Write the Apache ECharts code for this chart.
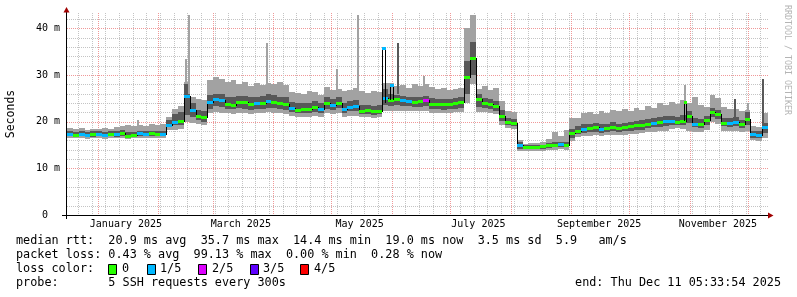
<!DOCTYPE html>
<html><head><meta charset="utf-8">
<script src="https://cdn.jsdelivr.net/npm/echarts@6.0.0/dist/echarts.min.js"></script>
<style>html,body{margin:0;padding:0;background:#fff}#c{width:797px;height:297px}</style>
</head><body><div id="c"></div>
<script>
// ---------- data ----------
const START = Date.UTC(2024, 11, 16, 5, 33, 54);
const DAY = 86400000;
const END = START + 360 * DAY;
const BUCKET_DAYS = 3;

const smokeHigh = [18.6,18.4,18.6,18.3,18.5,18.5,18.7,18.4,18.8,19.0,19.2,19.0,19.3,19.1,19.4,19.2,19.6,21.0,22.8,23.4,
28.5,25.3,24.8,24.6,29.0,29.5,29.2,28.6,29.0,28.0,28.6,27.6,28.3,27.8,28.4,28.0,28.5,27.8,26.4,26.2,
26.0,26.5,26.3,25.8,27.4,26.8,27.0,26.6,26.8,27.2,26.6,26.2,26.5,26.3,28.2,28.4,27.6,27.8,27.3,28.0,
27.6,28.0,27.4,27.0,27.2,26.8,27.0,27.2,40.0,42.8,27.0,27.6,26.9,27.3,24.5,22.2,22.0,16.0,15.3,15.4,
15.5,15.6,16.2,17.8,17.0,18.2,20.8,20.8,21.8,22.0,21.6,22.2,21.8,22.5,22.3,22.8,22.4,23.0,22.6,23.4,
23.0,24.0,23.6,24.2,23.8,24.6,24.0,25.2,23.5,23.2,25.8,25.0,23.2,22.8,22.8,22.2,22.6,19.0,18.8,21.8];
const darkHigh = [18.0,17.8,18.0,17.7,17.9,18.0,17.8,17.9,17.9,18.2,17.7,17.8,18.1,18.0,18.1,18.0,18.1,20.3,21.6,22.0,
28.0,24.0,22.5,22.3,25.8,26.0,25.9,25.3,25.2,25.6,25.5,25.2,25.4,25.6,25.9,25.7,25.4,25.2,24.2,24.0,
24.0,24.1,24.4,24.0,25.2,24.8,25.3,24.0,24.4,24.6,23.6,23.6,23.4,23.5,27.0,26.0,25.8,25.6,25.4,25.3,
25.4,25.5,25.0,24.9,24.8,24.9,25.0,25.2,33.0,37.0,26.0,25.0,24.8,24.4,22.5,20.8,20.6,15.6,15.0,15.0,
15.1,15.1,15.4,15.6,15.7,15.6,18.5,19.0,19.5,19.6,19.7,19.5,19.6,19.9,19.6,19.8,20.0,20.2,20.3,20.6,
20.8,21.0,21.2,21.2,21.0,21.4,22.4,20.8,20.6,21.2,23.0,22.6,20.8,20.7,21.0,20.4,22.0,18.0,17.9,19.8];
const median = [17.4,17.2,17.4,17.1,17.3,17.4,17.2,17.3,17.3,17.6,17.0,17.2,17.5,17.4,17.5,17.4,17.4,19.3,19.9,20.1,
25.6,22.6,21.3,21.0,24.2,24.8,24.7,23.8,23.6,24.3,24.2,23.8,24.0,24.1,24.5,24.3,24.0,23.8,22.9,22.6,
22.7,22.8,23.2,22.7,24.0,23.5,24.1,22.8,23.2,23.4,22.4,22.5,22.2,22.3,25.0,24.6,24.8,24.6,24.5,24.3,
24.4,24.6,23.9,23.8,23.7,23.9,24.0,24.2,29.5,33.6,24.8,24.0,23.7,23.3,21.2,19.9,19.8,15.0,14.5,14.6,
14.6,14.7,14.9,15.0,15.2,15.0,17.6,18.1,18.5,18.6,18.8,18.5,18.7,18.9,18.6,18.8,19.0,19.2,19.3,19.6,
19.8,19.9,20.1,20.2,20.0,20.2,21.2,19.6,19.5,20.3,22.0,21.6,19.8,19.7,20.0,19.4,20.5,17.3,17.1,18.8];
const darkLow = [16.9,16.8,16.9,16.7,16.8,16.9,16.8,16.9,16.8,17.0,16.6,16.8,17.0,16.9,17.0,16.9,16.9,18.8,19.2,19.3,
21.5,21.0,20.3,20.0,22.8,23.4,23.2,22.8,22.7,22.9,22.8,22.6,22.7,22.8,23.0,22.9,22.7,22.6,22.0,21.8,
21.8,21.9,22.0,21.8,22.8,22.5,22.9,21.9,22.2,22.3,21.6,21.7,21.5,21.6,23.5,23.4,23.5,23.4,23.3,23.2,
23.2,23.3,22.8,22.7,22.6,22.7,22.8,22.9,26.0,30.0,23.2,22.9,22.7,22.3,20.2,19.2,19.1,14.2,14.1,14.1,
14.2,14.2,14.4,14.5,14.6,14.5,16.5,17.3,17.6,17.7,17.8,17.6,17.7,17.9,17.7,17.9,18.0,18.2,18.3,18.6,
18.8,18.9,19.1,19.3,19.3,19.3,19.8,18.8,18.7,19.3,21.0,20.6,19.0,18.9,19.1,18.6,19.2,16.6,16.4,17.6];
const smokeLow = [16.4,16.4,16.5,16.3,16.4,16.5,16.3,16.4,16.4,16.5,16.2,16.4,16.5,16.5,16.5,16.5,16.5,18.2,18.3,18.5,
20.0,19.8,19.5,19.3,21.8,22.0,21.9,21.8,21.7,21.9,21.8,21.7,21.8,21.8,22.0,21.9,21.8,21.6,21.2,21.0,
21.0,21.1,21.2,21.0,21.8,21.6,21.8,21.0,21.2,21.3,20.9,21.0,20.8,20.9,22.2,22.2,22.4,22.3,22.3,22.2,
22.2,22.2,21.9,21.9,21.8,21.9,22.0,22.0,24.0,28.0,22.0,22.0,21.9,21.6,19.2,18.6,18.5,13.8,13.7,13.7,
13.8,13.8,13.9,14.0,14.1,14.0,15.8,16.8,17.0,17.0,17.1,17.0,17.1,17.2,17.1,17.2,17.3,17.4,17.5,17.7,
17.8,17.9,18.0,18.5,18.6,18.5,18.0,17.8,17.8,18.2,20.0,19.6,18.0,17.9,18.0,17.8,18.0,16.0,15.9,16.6];
const lossLevel = [1,0,1,1,0,1,1,0,1,0,0,0,1,1,0,0,1,1,1,0,
1,1,0,0,1,1,1,0,0,0,0,0,1,0,1,0,0,0,1,0,
0,0,0,1,0,1,0,1,1,1,0,0,0,0,1,0,0,1,1,0,
0,2,0,0,0,0,0,0,0,0,0,0,0,0,0,0,0,1,0,0,
0,0,0,0,1,0,0,0,1,0,0,1,0,0,0,0,0,0,0,0,
1,0,1,1,0,0,0,1,0,0,0,0,0,1,1,0,0,1,1,1];

// narrow spikes of the smoke: time, from, to, shade (0 light, 1 dark)
const spikeTimes = ['2025-01-21T20:00','2025-02-15T08:30','2025-02-17T01:00','2025-03-28T22:00','2025-05-03T22:00','2025-05-14T20:00',
  '2025-06-04T05:30','2025-06-17T17:30','2025-10-29T20:00','2025-11-24T10:00','2025-12-01T03:00','2025-12-08T15:00'];
const spikeFrom = [19.0,28.0,26.0,28.0,27.0,27.0,26.0,28.0,24.0,21.0,22.6,17.9];
const spikeTo   = [20.3,33.4,42.8,36.8,31.4,42.8,36.8,29.7,27.8,24.8,24.0,29.1];
const spikeShade = [0,0,0,0,0,0,1,0,0,1,0,1];

// narrow median excursions: time, base, value, loss
const medSpikeTimes = ['2025-05-27T16:30','2025-05-31T20:00','2025-10-29T12:45'];
const medSpikeBase  = [24.0,24.6,20.2];
const medSpikeValue = [35.7,27.8,24.2];
const medSpikeLoss  = [1,1,0];

// axes / grid
const monthStarts = ['2025-01-01','2025-02-01','2025-03-01','2025-04-01','2025-05-01','2025-06-01',
  '2025-07-01','2025-08-01','2025-09-01','2025-10-01','2025-11-01','2025-12-01'];
const monthLabelDates = ['2025-01-15T12:00','2025-03-15T12:00','2025-05-15T12:00','2025-07-15T12:00','2025-09-15T12:00','2025-11-15T12:00'];
const monthLabels = ['January 2025','March 2025','May 2025','July 2025','September 2025','November 2025'];
const firstWeekLine = '2024-12-22';
const yMajorTicks = [0,10,20,30,40];
const yTickLabels = ['0  ','10 m','20 m','30 m','40 m'];
const yMinorTicks = [2,4,6,8,12,14,16,18,22,24,26,28,32,34,36,38,42];

const lossColors = ['#26ff00','#00b8ff','#dd00ff','#5e00ff','#ff0000'];
const lossNames = ['0','1/5','2/5','3/5','4/5'];

const legendRow1 = 'median rtt:  20.9 ms avg  35.7 ms max  14.4 ms min  19.0 ms now  3.5 ms sd  5.9   am/s';
const legendRow2 = 'packet loss: 0.43 % avg  99.13 % max  0.00 % min  0.28 % now';
const legendRow3 = 'loss color:';
const legendRow4 = 'probe:       5 SSH requests every 300s';
const endText = 'end: Thu Dec 11 05:33:54 2025';

// ---------- build ----------
const T = s => Date.parse(s.length === 10 ? s + 'T00:00:00Z' : s + 'Z');
const LIGHT = '#a2a2a2', DARK = '#585858';
const MAJOR = '#f09898', MINOR = '#c4c4c4';
const MONO = 'DejaVu Sans Mono';

const buckets = median.map((m, i) => [
  START + i * BUCKET_DAYS * DAY, START + (i + 1) * BUCKET_DAYS * DAY,
  smokeLow[i], darkLow[i], m, darkHigh[i], smokeHigh[i], lossLevel[i], i > 0 ? median[i - 1] : m
]);
const spikes = spikeTimes.map((s, i) => [T(s), spikeFrom[i], spikeTo[i], spikeShade[i]]);
const medSpikes = medSpikeTimes.map((s, i) => [T(s), medSpikeBase[i], medSpikeValue[i], medSpikeLoss[i]]);

const vLines = [];
for (let t = T(firstWeekLine); t < END; t += 7 * DAY) vLines.push([t, 0]);
monthStarts.forEach(s => vLines.push([T(s), 1]));
const hLines = yMinorTicks.map(v => [v, 0]).concat(yMajorTicks.filter(v => v > 0).map(v => [v, 1]));
const labelTimes = monthLabelDates.map(T);

function X(api, t) { return Math.round(api.coord([t, 0])[0]); }
function Y(api, v) { return Math.round(api.coord([START, v])[1]); }

const option = {
  animation: false,
  backgroundColor: '#ffffff',
  grid: { left: 67, right: 29, top: 13, bottom: 82 },
  xAxis: {
    type: 'value', min: START, max: END, scale: true,
    axisLine: { show: false }, axisTick: { show: false }, splitLine: { show: false },
    axisLabel: {
      customValues: labelTimes, hideOverlap: false, margin: 4,
      color: '#000', fontFamily: MONO, fontSize: 10,
      formatter: v => { const i = labelTimes.indexOf(v); return i < 0 ? '' : monthLabels[i]; }
    }
  },
  yAxis: {
    type: 'value', min: 0, max: 43.3, interval: 10,
    axisLine: { show: false }, axisTick: { show: false }, splitLine: { show: false },
    axisLabel: {
      customValues: yMajorTicks, margin: 7, color: '#000', fontFamily: MONO, fontSize: 10,
      formatter: v => { const i = yMajorTicks.indexOf(v); return i < 0 ? '' : yTickLabels[i]; }
    }
  },
  series: [
    { type: 'custom', z: 1, silent: true, data: hLines, encode: { y: 0 },
      renderItem(params, api) {
        const cs = params.coordSys; const y = Y(api, api.value(0)) + 0.5;
        return { type: 'line', shape: { x1: cs.x, y1: y, x2: cs.x + cs.width, y2: y },
          style: { stroke: api.value(1) ? MAJOR : MINOR, lineWidth: 1, lineDash: [1, 1] } };
      } },
    { type: 'custom', z: 1, silent: true, data: vLines, encode: { x: 0 },
      renderItem(params, api) {
        const cs = params.coordSys; const x = X(api, api.value(0)) + 0.5;
        return { type: 'line', shape: { x1: x, y1: cs.y, x2: x, y2: cs.y + cs.height },
          style: { stroke: api.value(1) ? MAJOR : MINOR, lineWidth: 1, lineDash: [1, 1] } };
      } },
    { type: 'custom', z: 2, silent: true, clip: true, data: buckets, encode: { x: [0, 1], y: [2, 6] },
      renderItem(params, api) {
        const x0 = X(api, api.value(0)), x1 = X(api, api.value(1));
        const lo = Y(api, api.value(2)), dlo = Y(api, api.value(3)), dhi = Y(api, api.value(5)), hi = Y(api, api.value(6));
        return { type: 'group', children: [
          { type: 'rect', shape: { x: x0, y: hi, width: x1 - x0, height: lo - hi }, style: { fill: LIGHT } },
          { type: 'rect', shape: { x: x0, y: dhi, width: x1 - x0, height: dlo - dhi }, style: { fill: DARK } }
        ] };
      } },
    { type: 'custom', z: 3, silent: true, clip: true, data: spikes, encode: { x: 0, y: [1, 2] },
      renderItem(params, api) {
        const x = X(api, api.value(0)); const a = Y(api, api.value(2)), b = Y(api, api.value(1));
        return { type: 'rect', shape: { x: x - 1, y: a, width: 2, height: b - a },
          style: { fill: api.value(3) ? DARK : LIGHT } };
      } },
    { type: 'custom', z: 4, silent: true, clip: true, data: buckets, encode: { x: [0, 1], y: 4 },
      renderItem(params, api) {
        const x0 = X(api, api.value(0)), x1 = X(api, api.value(1));
        const m = Y(api, api.value(4)), pm = Y(api, api.value(8));
        const ch = [];
        if (m !== pm) ch.push({ type: 'line', shape: { x1: x0 + 0.5, y1: Math.min(m, pm), x2: x0 + 0.5, y2: Math.max(m, pm) + 1 },
          style: { stroke: '#000', lineWidth: 1 } });
        ch.push({ type: 'rect', shape: { x: x0, y: m - 1, width: x1 - x0, height: 3 },
          style: { fill: lossColors[api.value(7)] } });
        return { type: 'group', children: ch };
      } },
    { type: 'custom', z: 5, silent: true, clip: true, data: medSpikes, encode: { x: 0, y: [1, 2] },
      renderItem(params, api) {
        const t = api.value(0);
        const xa = X(api, t - 0.6 * DAY), xb = X(api, t + 0.6 * DAY);
        const base = Y(api, api.value(1)), top = Y(api, api.value(2));
        return { type: 'group', children: [
          { type: 'line', shape: { x1: xa + 0.5, y1: top, x2: xa + 0.5, y2: base }, style: { stroke: '#000', lineWidth: 1 } },
          { type: 'line', shape: { x1: xb + 0.5, y1: top, x2: xb + 0.5, y2: base }, style: { stroke: '#000', lineWidth: 1 } },
          { type: 'rect', shape: { x: xa, y: top - 1, width: xb - xa + 1, height: 3 }, style: { fill: lossColors[api.value(3)] } }
        ] };
      } }
  ],
  graphic: [
    { type: 'line', z: 10, shape: { x1: 62, y1: 215.5, x2: 768, y2: 215.5 }, style: { stroke: '#000', lineWidth: 1 } },
    { type: 'line', z: 10, shape: { x1: 66.5, y1: 219, x2: 66.5, y2: 12 }, style: { stroke: '#000', lineWidth: 1 } },
    { type: 'polygon', z: 10, shape: { points: [[63.5, 12.5], [69.5, 12.5], [66.5, 7]] }, style: { fill: '#a00000' } },
    { type: 'polygon', z: 10, shape: { points: [[768, 212.5], [768, 218.5], [773.5, 215.5]] }, style: { fill: '#a00000' } },
    { type: 'text', x: 11, y: 114, rotation: Math.PI / 2,
      style: { text: 'Seconds', fontFamily: MONO, fontSize: 11.5, fill: '#000', align: 'center', verticalAlign: 'middle' } },
    { type: 'text', x: 787, y: 60, rotation: -Math.PI / 2,
      style: { text: 'RRDTOOL / TOBI OETIKER', fontFamily: MONO, fontSize: 8.3, fill: '#b4b4b4', align: 'center', verticalAlign: 'middle' } },
    { type: 'text', x: 16, y: 241, style: { text: legendRow1, fontFamily: MONO, fontSize: 11.8, fill: '#000', verticalAlign: 'middle' } },
    { type: 'text', x: 16, y: 255, style: { text: legendRow2, fontFamily: MONO, fontSize: 11.8, fill: '#000', verticalAlign: 'middle' } },
    { type: 'text', x: 16, y: 269, style: { text: legendRow3, fontFamily: MONO, fontSize: 11.8, fill: '#000', verticalAlign: 'middle' } },
    { type: 'text', x: 16, y: 283, style: { text: legendRow4, fontFamily: MONO, fontSize: 11.8, fill: '#000', verticalAlign: 'middle' } },
    { type: 'text', x: 781, y: 283, style: { text: endText, fontFamily: MONO, fontSize: 11.8, fill: '#000', align: 'right', verticalAlign: 'middle' } }
  ].concat(lossNames.flatMap((name, i) => {
    const bx = [108.5, 147.5, 198.5, 250.5, 300.5][i];
    const tx = [122, 160, 212, 263, 314][i];
    return [
      { type: 'rect', z: 10, shape: { x: bx, y: 264.5, width: 8, height: 10 }, style: { fill: lossColors[i], stroke: '#000', lineWidth: 1 } },
      { type: 'text', x: tx, y: 269, style: { text: name, fontFamily: MONO, fontSize: 11.8, fill: '#000', verticalAlign: 'middle' } }
    ];
  }))
};

const chart = echarts.init(document.getElementById('c'), null, { renderer: 'canvas' });
chart.setOption(option);
</script></body></html>
